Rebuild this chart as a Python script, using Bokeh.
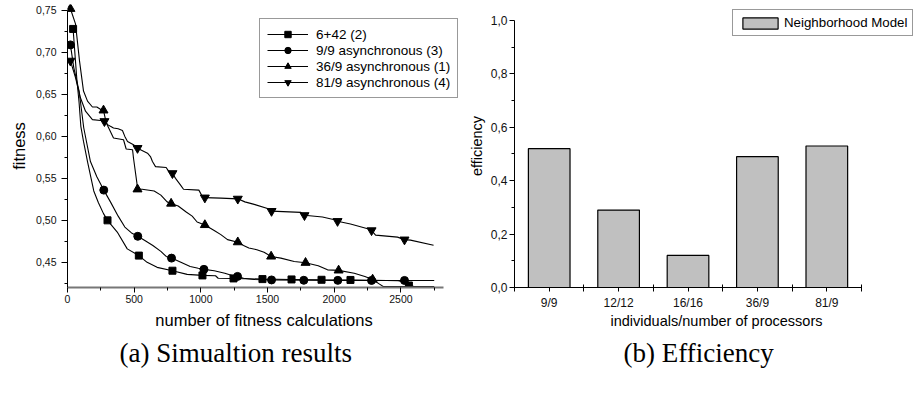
from bokeh.plotting import figure
from bokeh.layouts import row
from bokeh.models import (ColumnDataSource, FixedTicker, CustomJSTickFormatter, Legend,
                          LegendItem, Title, Range1d)
from bokeh.embed import file_html
from bokeh.resources import INLINE

# ---------------- data: (a) simulation results ----------------
s1_name = "6+42 (2)"
s1_x = [42, 55, 70, 87, 100, 120, 150, 197, 232, 270, 300, 373, 448, 535, 597, 672, 787, 897, 1012,
        1110, 1130, 1245, 1462, 1680, 1905, 2122, 2300, 2480, 2530, 2560, 2600]
s1_y = [0.728, 0.700, 0.668, 0.640, 0.612, 0.594, 0.570, 0.535, 0.521, 0.508, 0.500, 0.486, 0.466,
        0.458, 0.450, 0.444, 0.440, 0.4356, 0.4344, 0.4340, 0.4310, 0.4308, 0.4300, 0.4296, 0.4292,
        0.4290, 0.4286, 0.4280, 0.4260, 0.4224, 0.4212]
s1_mx = [42, 300, 535, 787, 1012, 1245, 1462, 1680, 1905, 2122, 2560]
s1_my = [0.728, 0.500, 0.458, 0.440, 0.4344, 0.4308, 0.4300, 0.4296, 0.4292, 0.4290, 0.4224]

s2_name = "9/9 asynchronous (3)"
s2_x = [22, 47, 87, 122, 172, 220, 272, 322, 380, 430, 480, 527, 580, 640, 700, 740, 780, 850, 920,
        980, 1023, 1100, 1180, 1240, 1275, 1320, 1400, 1530, 1772, 2027, 2280, 2527, 2750]
s2_y = [0.709, 0.682, 0.654, 0.610, 0.570, 0.552, 0.536, 0.522, 0.505, 0.492, 0.485, 0.481, 0.476,
        0.470, 0.463, 0.457, 0.455, 0.450, 0.445, 0.443, 0.4416, 0.4400, 0.4370, 0.4340, 0.4332,
        0.4310, 0.4296, 0.4290, 0.4286, 0.4285, 0.4284, 0.4284, 0.4283]
s2_mx = [22, 272, 527, 780, 1023, 1275, 1530, 1772, 2027, 2280, 2527]
s2_my = [0.709, 0.536, 0.481, 0.455, 0.4416, 0.4332, 0.4290, 0.4286, 0.4285, 0.4284, 0.4284]

s3_name = "36/9 asynchronous (1)"
s3_x = [22, 60, 90, 120, 150, 187, 220, 250, 270, 285, 300, 345, 420, 440, 488, 495, 520, 525, 560,
        650, 700, 747, 777, 830, 890, 935, 972, 1030, 1100, 1150, 1200, 1277, 1320, 1360, 1420, 1474,
        1527, 1600, 1700, 1785, 1880, 1950, 2033, 2150, 2230, 2288, 2340, 2370, 2750]
s3_y = [0.752, 0.734, 0.690, 0.654, 0.642, 0.635, 0.635, 0.632, 0.631, 0.620, 0.613, 0.598, 0.596,
        0.585, 0.584, 0.574, 0.545, 0.537, 0.537, 0.535, 0.530, 0.522, 0.520, 0.517, 0.510, 0.505,
        0.498, 0.4945, 0.488, 0.483, 0.477, 0.474, 0.470, 0.467, 0.465, 0.462, 0.457, 0.455, 0.451,
        0.4495, 0.446, 0.441, 0.4404, 0.437, 0.433, 0.4296, 0.424, 0.421, 0.421]
s3_mx = [22, 270, 525, 777, 1030, 1277, 1527, 1785, 2033, 2288]
s3_my = [0.752, 0.631, 0.537, 0.520, 0.4945, 0.474, 0.457, 0.4495, 0.4404, 0.4296]

s4_name = "81/9 asynchronous (4)"
s4_x = [22, 60, 97, 135, 187, 248, 277, 300, 322, 345, 380, 412, 430, 450, 495, 525, 600, 622, 637,
        660, 740, 760, 787, 810, 848, 870, 985, 1012, 1030, 1150, 1277, 1330, 1400, 1500, 1530, 1750,
        1777, 1912, 2010, 2025, 2122, 2258, 2280, 2310, 2475, 2527, 2572, 2745]
s4_y = [0.690, 0.670, 0.646, 0.630, 0.620, 0.619, 0.618, 0.614, 0.612, 0.610, 0.609, 0.607, 0.600,
        0.594, 0.590, 0.586, 0.580, 0.576, 0.570, 0.564, 0.563, 0.558, 0.556, 0.550, 0.542, 0.537,
        0.536, 0.528, 0.527, 0.5265, 0.5256, 0.522, 0.519, 0.514, 0.511, 0.5095, 0.506, 0.504, 0.5004,
        0.499, 0.4956, 0.4896, 0.488, 0.4824, 0.480, 0.477, 0.4764, 0.4704]
s4_mx = [22, 277, 525, 787, 1030, 1277, 1530, 1777, 2025, 2280, 2527]
s4_my = [0.690, 0.618, 0.586, 0.556, 0.527, 0.5256, 0.511, 0.506, 0.499, 0.488, 0.477]

x_ticks_a = [0, 500, 1000, 1500, 2000, 2500]
x_minor_a = [250, 750, 1250, 1750, 2250, 2750]
y_ticks_a = [0.45, 0.50, 0.55, 0.60, 0.65, 0.70, 0.75]
y_minor_a = [0.425, 0.475, 0.525, 0.575, 0.625, 0.675, 0.725]
x_axis_a = (0, 2820)
y_axis_a = (0.42, 0.75)

# ---------------- data: (b) efficiency ----------------
categories = ["9/9", "12/12", "16/16", "36/9", "81/9"]
efficiency = [0.52, 0.29, 0.12, 0.49, 0.53]
bar_series = "Neighborhood Model"
y_ticks_b = [0.0, 0.2, 0.4, 0.6, 0.8, 1.0]
y_minor_b = [0.1, 0.3, 0.5, 0.7, 0.9]
y_axis_b = (0.0, 1.0)

SANS = "Liberation Sans"
SERIF = "Liberation Serif"
H = 396
TOP = 4
BOTTOM = 109

# ================= (a) =================
p1 = figure(width=460, height=H, x_range=Range1d(0, 2947), y_range=Range1d(0.42, 0.7571),
            output_backend="svg", toolbar_location=None,
            min_border_left=67, min_border_right=0, min_border_top=TOP, min_border_bottom=BOTTOM)
p1.grid.visible = False
p1.outline_line_color = None

series = [(s1_name, s1_x, s1_y, s1_mx, s1_my, "square", 7),
          (s2_name, s2_x, s2_y, s2_mx, s2_my, "circle", 8),
          (s3_name, s3_x, s3_y, s3_mx, s3_my, "triangle", 9),
          (s4_name, s4_x, s4_y, s4_mx, s4_my, "inverted_triangle", 9)]
items = []
for name, xs, ys, mxs, mys, mk, sz in series:
    ln = p1.line(xs, ys, line_color="black", line_width=1.1)
    sc = p1.scatter(mxs, mys, marker=mk, size=sz, fill_color="black", line_color="black")
    items.append(LegendItem(label=name, renderers=[ln, sc]))

leg1 = Legend(items=items, location=(192, 189), padding=7, spacing=0, margin=0,
              glyph_width=41, glyph_height=16, label_height=16, label_standoff=8,
              label_text_font=SANS, label_text_font_size="13.5px", label_text_color="black",
              border_line_color="#333333", border_line_width=1, background_fill_alpha=1)
p1.add_layout(leg1, "center")

p1.xaxis.ticker = FixedTicker(ticks=x_ticks_a, minor_ticks=x_minor_a)
p1.yaxis.ticker = FixedTicker(ticks=y_ticks_a, minor_ticks=y_minor_a)
p1.xaxis.bounds = x_axis_a
p1.yaxis.bounds = y_axis_a
p1.yaxis.formatter = CustomJSTickFormatter(code="return tick.toFixed(2).replace('.', ',');")
p1.xaxis.axis_label = "number of fitness calculations"
p1.yaxis.axis_label = "fitness"
for ax in (p1.xaxis, p1.yaxis):
    ax.axis_label_text_font = SANS
    ax.axis_label_text_font_size = "16.5px"
    ax.axis_label_text_font_style = "normal"
    ax.axis_label_text_color = "black"
    ax.major_label_text_font = SANS
    ax.major_label_text_font_size = "10.5px"
    ax.major_label_text_color = "#111111"
    ax.major_tick_in = 0
    ax.minor_tick_in = 0
    ax.major_tick_line_color = "black"
    ax.minor_tick_line_color = "black"
p1.yaxis.major_tick_out = 6
p1.yaxis.minor_tick_out = 3
p1.yaxis.major_label_standoff = 5
p1.yaxis.axis_label_standoff = 5
p1.yaxis.axis_line_color = "black"
p1.xaxis.major_tick_out = 5
p1.xaxis.minor_tick_out = 3
p1.xaxis.major_label_standoff = 2
p1.xaxis.axis_label_standoff = 5
p1.xaxis.axis_line_color = "#777777"
p1.xaxis.axis_line_width = 2

cap1 = Title(text="(a) Simualtion results", align="left", offset=52, text_font=SERIF,
             text_font_size="27px", text_font_style="normal", text_color="black", standoff=8)
p1.add_layout(cap1, "below")

# ================= (b) =================
xs_b = list(range(len(categories)))
p2 = figure(width=458, height=H, x_range=Range1d(-0.5, 5.321), y_range=Range1d(0, 1.0599),
            output_backend="svg", toolbar_location=None,
            min_border_left=54, min_border_right=0, min_border_top=TOP, min_border_bottom=BOTTOM)
p2.grid.visible = False
p2.outline_line_color = None
src = ColumnDataSource(dict(x=xs_b, top=efficiency))
bars = p2.vbar(x="x", top="top", width=0.6, bottom=0, source=src, fill_color="#c0c0c0",
               line_color="black", line_width=1.2)
leg2 = Legend(items=[LegendItem(label=bar_series, renderers=[bars])], location=(218, 251),
              padding=5, spacing=0, margin=0, glyph_width=44, glyph_height=14, label_height=14,
              label_standoff=2, label_text_font=SANS, label_text_font_size="13.3px",
              label_text_color="black", border_line_color="#333333", border_line_width=1)
p2.add_layout(leg2, "center")

p2.xaxis.ticker = FixedTicker(ticks=xs_b, minor_ticks=[-0.5, 0.5, 1.5, 2.5, 3.5, 4.5])
p2.xaxis.major_label_overrides = {i: c for i, c in enumerate(categories)}
p2.xaxis.bounds = (-0.5, 4.5)
p2.yaxis.ticker = FixedTicker(ticks=y_ticks_b, minor_ticks=y_minor_b)
p2.yaxis.bounds = y_axis_b
p2.yaxis.formatter = CustomJSTickFormatter(code="return tick.toFixed(1).replace('.', ',');")
p2.xaxis.axis_label = "individuals/number of processors"
p2.yaxis.axis_label = "efficiency"
for ax in (p2.xaxis, p2.yaxis):
    ax.axis_label_text_font = SANS
    ax.axis_label_text_font_size = "14.5px"
    ax.axis_label_text_font_style = "normal"
    ax.axis_label_text_color = "black"
    ax.major_label_text_font = SANS
    ax.major_label_text_font_size = "12px"
    ax.major_label_text_color = "#111111"
    ax.axis_line_color = "black"
    ax.major_tick_line_color = "black"
    ax.minor_tick_line_color = "black"
    ax.major_tick_in = 0
p2.yaxis.major_tick_out = 5
p2.yaxis.minor_tick_out = 3
p2.yaxis.minor_tick_in = 0
p2.yaxis.major_label_standoff = 2
p2.yaxis.axis_label_standoff = 3
p2.xaxis.major_tick_out = 4
p2.xaxis.minor_tick_out = 4
p2.xaxis.minor_tick_in = 3
p2.xaxis.major_label_standoff = 4
p2.xaxis.axis_label_standoff = 0

cap2 = Title(text="(b) Efficiency", align="left", offset=109, text_font=SERIF,
             text_font_size="27px", text_font_style="normal", text_color="black", standoff=8)
p2.add_layout(cap2, "below")

layout = row(p1, p2)
open("out.html", "w").write(file_html(layout, INLINE))
